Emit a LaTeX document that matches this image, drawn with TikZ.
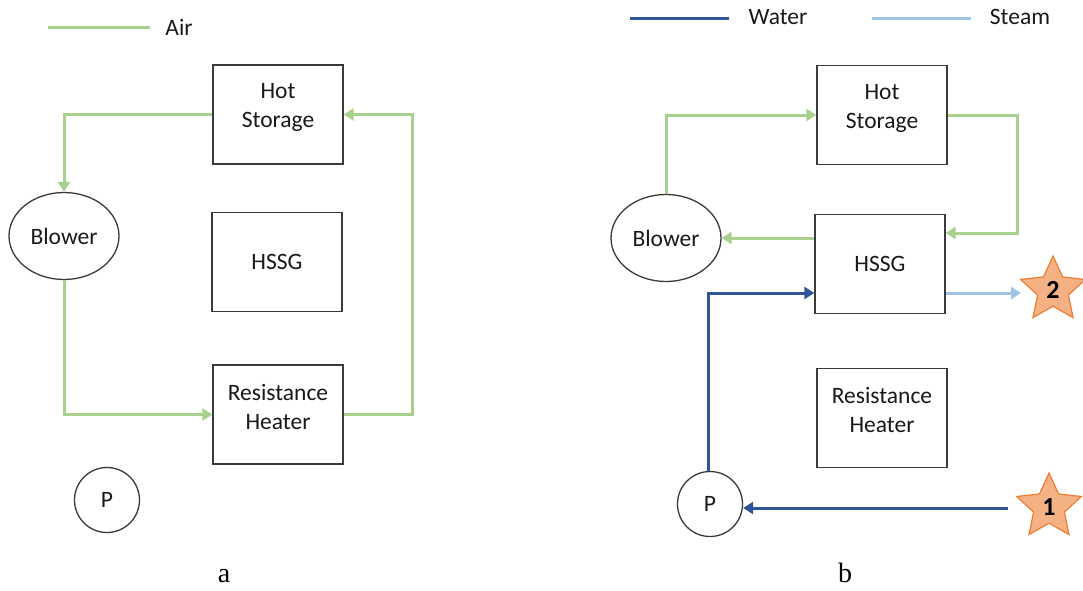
\documentclass[tikz,border=0pt]{standalone}
\usepackage{fontspec}
\setmainfont{Carlito}
\newfontfamily\capfont{Liberation Serif}
\usetikzlibrary{shapes.geometric,arrows.meta}
\definecolor{airc}{HTML}{A9D18E}
\definecolor{waterc}{HTML}{2F5597}
\definecolor{steamc}{HTML}{9DC3E6}
\definecolor{starfill}{HTML}{F4B183}
\definecolor{stardraw}{HTML}{ED7D31}
\definecolor{boxc}{HTML}{3A3A3A}
\tikzset{
  lbl/.style={font=\fontsize{23.5}{29}\selectfont, text=black!90},
  unit/.style={draw=boxc, line width=1.3pt, minimum width=130pt, minimum height=99pt, inner sep=0pt},
  blowerb/.style={ellipse, draw=boxc, line width=1.3pt, minimum width=110pt, minimum height=87pt, inner sep=0pt, lbl},
  pumpc/.style={circle, draw=boxc, line width=1.3pt, minimum size=65pt, inner sep=0pt, lbl},
  tip/.style={-{Triangle[length=10pt,width=12pt]}},
  air/.style={draw=airc, line width=3pt},
  water/.style={draw=waterc, line width=3pt},
  steam/.style={draw=steamc, line width=3pt},
  starb/.style={star, star points=5, star point ratio=2.1, minimum size=68pt, inner sep=0pt,
    fill=starfill, draw=stardraw, line width=1.2pt, font=\bfseries\fontsize{26}{28}\selectfont},
  capt/.style={font=\capfont\fontsize{28}{30}\selectfont, anchor=base, inner sep=0pt}
}
\begin{document}
\begin{tikzpicture}[x=1pt,y=-1pt]
\useasboundingbox (0,0) rectangle (1083,590);
% ---------- panel a ----------
\coordinate (la1) at (48,27);
\coordinate (la2) at (150,27);
\draw[air] (la1) -- (la2);
\node[lbl] (lairA) at (179,27) {Air};
\node[unit, label={[lbl,align=center,yshift=7pt]center:Hot\\Storage}] (hsA) at (278,114.5) {};
\node[unit, lbl] (hsgA) at (277,262) {HSSG};
\node[unit, label={[lbl,align=center,yshift=8pt]center:Resistance\\Heater}] (rhA) at (278,414.5) {};
\node[blowerb] (blA) at (64,236) {Blower};
\node[pumpc] (pA) at (107,500) {P};
\draw[air,tip] (hsA.west) -| (blA.north);
\draw[air,tip] (blA.south) |- (rhA.west);
\draw[air,tip] (rhA.east) -- ++(69,0) |- (hsA.east);
\node[capt] (capA) at (224,582) {a};
% ---------- panel b ----------
\coordinate (lw1) at (630,18);
\coordinate (lw2) at (729,18);
\draw[water] (lw1) -- (lw2);
\node[lbl] (lwater) at (778,17) {Water};
\coordinate (ls1) at (872,18);
\coordinate (ls2) at (971,18);
\draw[steam] (ls1) -- (ls2);
\node[lbl] (lsteam) at (1020,17) {Steam};
\node[unit, label={[lbl,align=center,yshift=7pt]center:Hot\\Storage}] (hsB) at (882,115) {};
\node[unit, lbl] (hsgB) at (880,264) {HSSG};
\node[unit, label={[lbl,align=center,yshift=8pt]center:Resistance\\Heater}] (rhB) at (882,418) {};
\node[blowerb] (blB) at (666,238) {Blower};
\node[pumpc] (pB) at (710,504) {P};
\node[starb] (s2) at (1053,290) {2};
\node[starb] (s1) at (1049,507) {1};
\coordinate (s2in) at (1021,293);
\coordinate (s1out) at (1008,508);
\draw[air,tip] (blB.north) |- (hsB.west);
\draw[air,tip] (hsB.east) -- ++(70,0) |- ([yshift=31pt]hsgB.east);
\draw[air,tip] ([yshift=26pt]hsgB.west) -- (blB.east);
\draw[water,tip] ([xshift=-2pt]pB.north) |- ([yshift=-29pt]hsgB.west);
\draw[steam,tip] ([yshift=-29pt]hsgB.east) -- (s2in);
\draw[water,tip] (s1out) -- (pB.east |- s1out);
\node[capt] (capB) at (845,582) {b};
\end{tikzpicture}
\end{document}
